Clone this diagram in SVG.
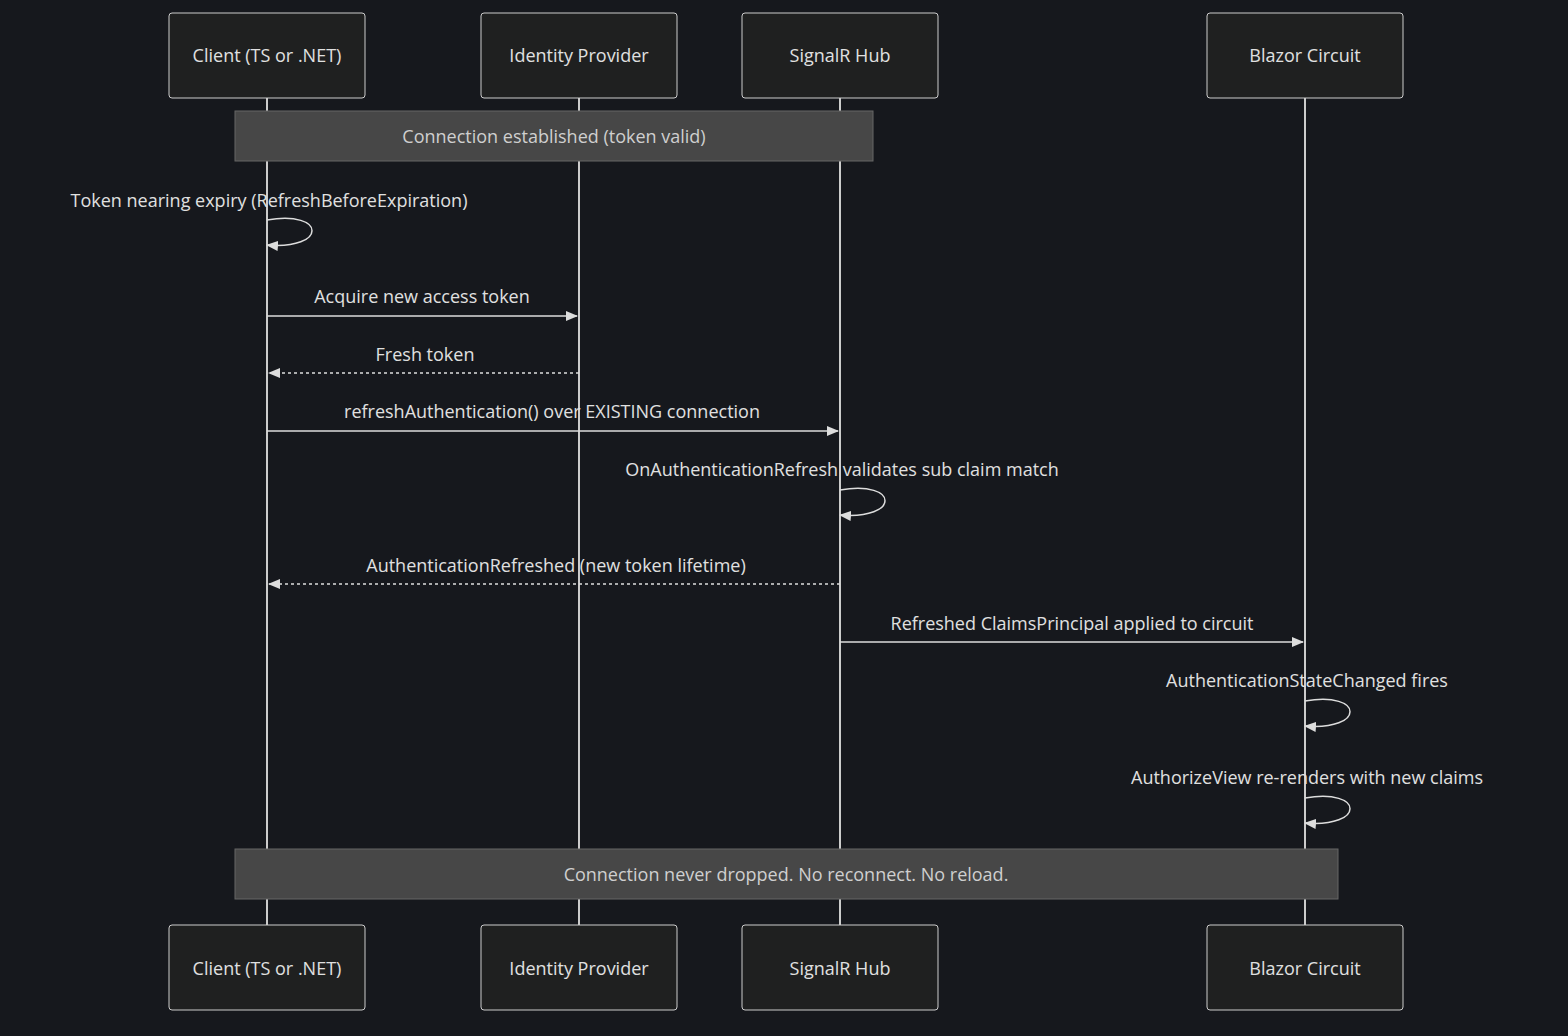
<svg xmlns="http://www.w3.org/2000/svg" width="1568" height="1036" viewBox="0 0 1568 1036">
<style>
text{font-family:"Open Sans","Liberation Sans",sans-serif;font-size:18px;fill:#e0e0e0;text-anchor:middle}
.actor rect{fill:#1f2020;stroke:#cccccc;stroke-width:1}
.life{stroke:#cccccc;stroke-width:2}
.note rect{fill:#474747;stroke:#666666;stroke-width:1}
.note text{fill:#cfcfcf}
.msg{stroke:#dddddd;stroke-width:1.5;fill:none}
.dash{stroke-dasharray:3,3}
</style>
<defs>
<marker id="ah" viewBox="0 0 12 10" refX="11" refY="5" markerWidth="12" markerHeight="10" orient="auto" markerUnits="userSpaceOnUse">
<path d="M0,0 L12,5 L0,10 z" fill="#dddddd"/>
</marker>
</defs>
<rect width="1568" height="1036" fill="#16181d"/>
<g id="lifelines">
<line class="life" x1="267" y1="98" x2="267" y2="925"/>
<line class="life" x1="579" y1="98" x2="579" y2="925"/>
<line class="life" x1="840" y1="98" x2="840" y2="925"/>
<line class="life" x1="1305" y1="98" x2="1305" y2="925"/>
</g>
<g id="actor-client-top" class="actor"><rect x="169" y="13" width="196" height="85" rx="3"/><text x="267" y="62">Client (TS or .NET)</text></g>
<g id="actor-idp-top" class="actor"><rect x="481" y="13" width="196" height="85" rx="3"/><text x="579" y="62">Identity Provider</text></g>
<g id="actor-hub-top" class="actor"><rect x="742" y="13" width="196" height="85" rx="3"/><text x="840" y="62">SignalR Hub</text></g>
<g id="actor-circuit-top" class="actor"><rect x="1207" y="13" width="196" height="85" rx="3"/><text x="1305" y="62">Blazor Circuit</text></g>
<g id="actor-client-bottom" class="actor"><rect x="169" y="925" width="196" height="85" rx="3"/><text x="267" y="975">Client (TS or .NET)</text></g>
<g id="actor-idp-bottom" class="actor"><rect x="481" y="925" width="196" height="85" rx="3"/><text x="579" y="975">Identity Provider</text></g>
<g id="actor-hub-bottom" class="actor"><rect x="742" y="925" width="196" height="85" rx="3"/><text x="840" y="975">SignalR Hub</text></g>
<g id="actor-circuit-bottom" class="actor"><rect x="1207" y="925" width="196" height="85" rx="3"/><text x="1305" y="975">Blazor Circuit</text></g>
<g id="note1" class="note"><rect x="235" y="111" width="638" height="50"/><text x="554" y="143">Connection established (token valid)</text></g>
<g id="note2" class="note"><rect x="235" y="849" width="1103" height="50"/><text x="786" y="881">Connection never dropped. No reconnect. No reload.</text></g>
<g id="connectors">
<path class="msg" d="M267,220 C327,210 327,250 267,245" marker-end="url(#ah)"/>
<line class="msg" x1="267" y1="316" x2="577" y2="316" marker-end="url(#ah)"/>
<line class="msg dash" x1="579" y1="373" x2="269" y2="373" marker-end="url(#ah)"/>
<line class="msg" x1="267" y1="431" x2="838" y2="431" marker-end="url(#ah)"/>
<path class="msg" d="M840,490 C900,480 900,520 840,515" marker-end="url(#ah)"/>
<line class="msg dash" x1="840" y1="584" x2="269" y2="584" marker-end="url(#ah)"/>
<line class="msg" x1="840" y1="642" x2="1303" y2="642" marker-end="url(#ah)"/>
<path class="msg" d="M1305,701 C1365,691 1365,731 1305,726" marker-end="url(#ah)"/>
<path class="msg" d="M1305,798 C1365,788 1365,828 1305,823" marker-end="url(#ah)"/>
</g>
<g id="labels">
<text x="269" y="207">Token nearing expiry (RefreshBeforeExpiration)</text>
<text x="422" y="303">Acquire new access token</text>
<text x="425" y="361">Fresh token</text>
<text x="552" y="418">refreshAuthentication() over EXISTING connection</text>
<text x="842" y="476">OnAuthenticationRefresh validates sub claim match</text>
<text x="556" y="572">AuthenticationRefreshed (new token lifetime)</text>
<text x="1072" y="630">Refreshed ClaimsPrincipal applied to circuit</text>
<text x="1307" y="687">AuthenticationStateChanged fires</text>
<text x="1307" y="784">AuthorizeView re-renders with new claims</text>
</g>
</svg>
